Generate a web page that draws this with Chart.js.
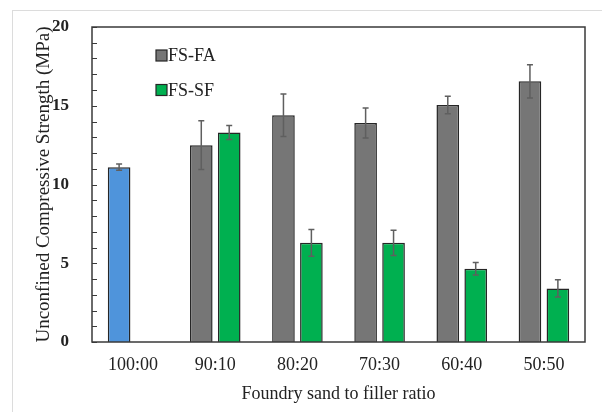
<!DOCTYPE html>
<html>
<head>
<meta charset="utf-8">
<script src="https://cdn.jsdelivr.net/npm/chart.js@4.4.0/dist/chart.umd.min.js"></script>
<style>
html, body { margin: 0; padding: 0; background: #fff; }
#wrap { position: relative; width: 603px; height: 412px; }
#frame { position: absolute; left: 12px; top: 10px; right: 1px; bottom: 0; border-top: 1px solid #dcdcdc; border-left: 1px solid #dcdcdc; }
canvas { position: absolute; left: 0; top: 0; }
</style>
</head>
<body>
<div id="wrap">
  <div id="frame"></div>
  <canvas id="myChart" width="603" height="412"></canvas>
</div>
<script>
const ratios = ['100:00', '90:10', '80:20', '70:30', '60:40', '50:50']
const control = [11.1, null, null, null, null, null]
const controlErr = [0.2, null, null, null, null, null]
const fsFa = [null, 12.5, 14.4, 13.9, 15.05, 16.55]
const fsFaErr = [null, 1.55, 1.35, 0.95, 0.55, 1.05]
const fsSf = [null, 13.3, 6.3, 6.3, 4.65, 3.4]
const fsSfErr = [null, 0.45, 0.85, 0.8, 0.4, 0.55]
const yLabels = [0, 5, 10, 15, 20]

const serif = "'Liberation Serif', 'Times New Roman', serif"
const ink = '#222'

// error bars, inner ticks and plot box
const errorBars = {
  id: 'errorBars',
  afterDatasetsDraw(chart) {
    const c = chart.ctx
    const y = chart.scales.y
    const a = chart.chartArea
    c.save()
    c.strokeStyle = '#5f5f5f'
    c.lineWidth = 1.5
    chart.data.datasets.forEach((ds, i) => {
      chart.getDatasetMeta(i).data.forEach((bar, j) => {
        const v = ds.data[j], e = ds.errors[j]
        if (v == null || e == null) return
        const top = y.getPixelForValue(v + e)
        const bot = y.getPixelForValue(v - e)
        c.beginPath()
        c.moveTo(bar.x, top); c.lineTo(bar.x, bot)
        c.moveTo(bar.x - 3, top); c.lineTo(bar.x + 3, top)
        c.moveTo(bar.x - 3, bot); c.lineTo(bar.x + 3, bot)
        c.stroke()
      })
    })
    c.strokeStyle = '#3a3a3a'
    c.lineWidth = 1
    c.beginPath()
    y.ticks.forEach(t => {
      const py = Math.round(y.getPixelForValue(t.value)) + 0.5
      c.moveTo(a.left, py); c.lineTo(a.left + 5, py)
    })
    c.stroke()
    c.lineWidth = 1.5
    c.strokeRect(a.left, a.top, a.right - a.left, a.bottom - a.top)
    c.restore()
  }
}

// legend stacked inside the plot
const boxLegend = {
  id: 'boxLegend',
  afterDraw(chart) {
    const c = chart.ctx
    const a = chart.chartArea
    c.save()
    c.font = '18px ' + serif
    c.textBaseline = 'middle'
    let row = 0
    chart.data.datasets.forEach(ds => {
      if (!ds.inLegend) return
      const x = a.left + 64
      const yy = a.top + 28.5 + row * 34.5
      c.fillStyle = ds.backgroundColor
      c.fillRect(x, yy - 5.5, 11, 11)
      c.strokeStyle = '#262626'
      c.lineWidth = 1.2
      c.strokeRect(x, yy - 5.5, 11, 11)
      c.fillStyle = ink
      c.fillText(ds.label, x + 12, yy + 1)
      row++
    })
    c.restore()
  }
}

const ctx = document.getElementById('myChart')

new Chart(ctx, {
  type: 'bar',
  data: {
    labels: ratios,
    datasets: [
      { label: 'FS', data: control, errors: controlErr, stack: 'fa', inLegend: false,
        backgroundColor: '#4f94db', borderColor: '#262626', borderWidth: 1.5 },
      { label: 'FS-FA', data: fsFa, errors: fsFaErr, stack: 'fa', inLegend: true,
        backgroundColor: '#767676', borderColor: '#262626', borderWidth: 1.5 },
      { label: 'FS-SF', data: fsSf, errors: fsSfErr, stack: 'sf', inLegend: true,
        backgroundColor: '#00b050', borderColor: '#262626', borderWidth: 1.5 }
    ]
  },
  options: {
    responsive: false,
    animation: false,
    categoryPercentage: 0.68,
    barPercentage: 0.81,
    layout: { padding: { top: 27, right: 18, left: 0, bottom: 0 } },
    plugins: {
      legend: { display: false },
      tooltip: { enabled: false }
    },
    scales: {
      x: {
        grid: { display: false },
        border: { display: false },
        ticks: { color: ink, font: { family: serif, size: 18 }, padding: 4 },
        title: { display: true, text: 'Foundry sand to filler ratio', color: ink,
                 font: { family: serif, size: 18 }, padding: { top: 0, bottom: 7 } },
        afterFit(s) { s.height = 70 }
      },
      y: {
        stacked: false,
        min: 0,
        max: 20,
        grid: { display: false },
        border: { display: false },
        ticks: {
          stepSize: 1,
          autoSkip: false,
          padding: 15,
          color: ink,
          font: { family: serif, size: 17, weight: 'bold' },
          callback: v => yLabels.includes(v) ? v : ''
        },
        title: { display: true, text: 'Unconfined Compressive Strength (MPa)', color: ink,
                 font: { family: serif, size: 19 }, padding: { top: 33, bottom: 0 } },
        afterFit(s) { s.width = 92 }
      }
    }
  },
  plugins: [errorBars, boxLegend]
})
</script>
</body>
</html>
